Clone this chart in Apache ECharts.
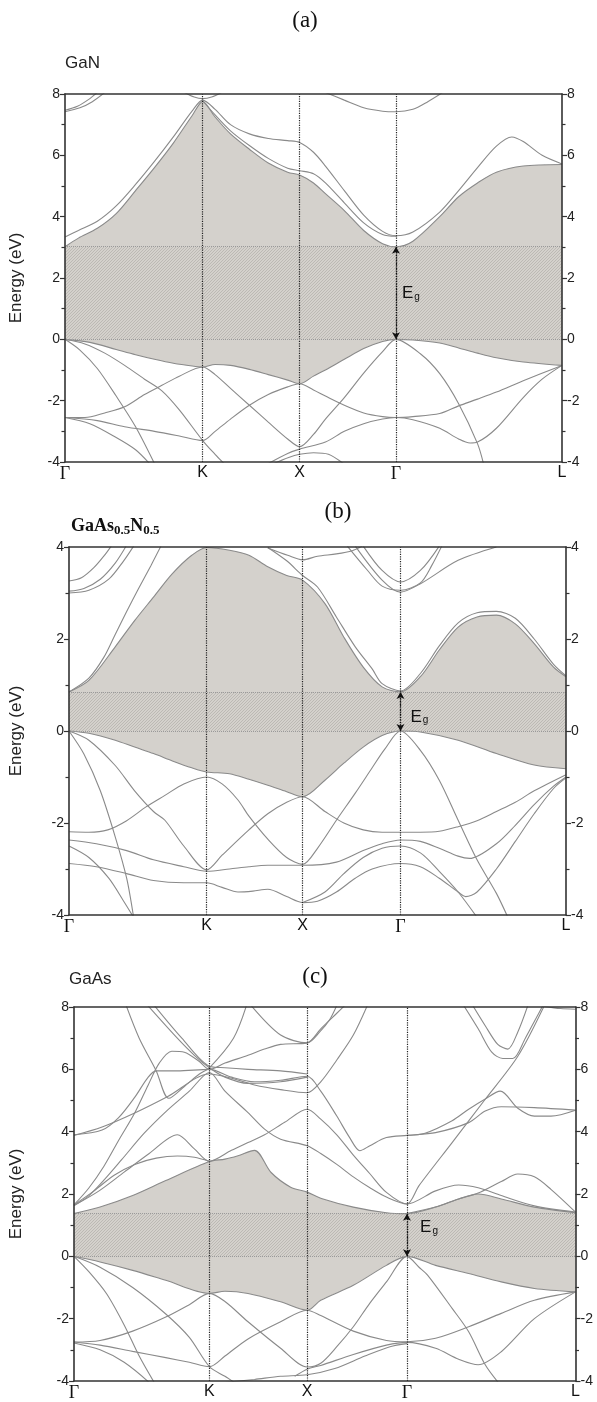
<!DOCTYPE html>
<html><head><meta charset="utf-8">
<script src="https://cdn.jsdelivr.net/npm/echarts@6/dist/echarts.min.js"></script>
<style>html,body{margin:0;padding:0;background:#fff}#c{width:597px;height:1402px}</style>
</head><body><div id="c"></div>
<script>
// ---------- high-symmetry points (x position along path, 0..100) ----------
const xNames = ['Γ','K','X','Γ','L'];
const kA = [0, 27.7, 47.2, 66.6, 100];
const kB = [0, 27.7, 47.0, 66.7, 100];
const kC = [0, 27.0, 46.5, 66.4, 100];
const yTicksA = [-4, 8];
const yTicksB = [-4, 4];
const yTicksC = [-4, 8];
const egA = 3.02, egB = 0.85, egC = 1.37;

// ---------- (a) GaN ----------
const a_cb = [[0,3.02],[2.7,3.3],[6.5,3.62],[10.3,4.1],[14.2,4.85],[18,5.6],[21.8,6.4],[25.6,7.3],[27.7,7.75],[30.2,7.25],[33.3,6.7],[37.1,6.2],[40.9,5.75],[44.8,5.45],[47.2,5.36],[50,5.1],[52.4,4.75],[56.2,4.2],[60.1,3.55],[63.9,3.12],[66.6,3.02],[70,3.2],[75.4,4.0],[79.2,4.65],[83,5.1],[86.8,5.45],[92.2,5.65],[100,5.7]];
const a_vb = [[0,0],[5,-0.1],[10.3,-0.33],[14.2,-0.5],[18,-0.65],[21.8,-0.78],[25.6,-0.87],[27.7,-0.9],[30.2,-0.82],[33.3,-0.85],[37.1,-0.98],[40.9,-1.15],[44.8,-1.33],[47.2,-1.45],[50,-1.2],[52.4,-1.0],[56.2,-0.65],[60.1,-0.3],[63.9,-0.07],[66.6,0],[70,-0.02],[75.4,-0.12],[79.2,-0.28],[83,-0.45],[86.8,-0.6],[92.2,-0.74],[100,-0.85]];
const a_c2 = [[0,3.34],[2.7,3.55],[6.5,3.85],[10.3,4.35],[14.2,5.05],[18,5.8],[21.8,6.6],[25.6,7.45],[27.7,7.8],[30.2,7.5],[33.3,7.0],[37.1,6.7],[40.9,6.55],[44.8,6.48],[47.2,6.42],[50,6.1],[52.4,5.65],[56.2,4.85],[60.1,4.05],[63.9,3.52],[66.6,3.38],[70,3.5],[75.4,4.15],[79.2,4.85],[83,5.6],[86.8,6.3],[89.9,6.6],[92.2,6.45],[96,6.0],[100,5.72]];
const a_c3 = [[27.7,7.78],[30.2,7.32],[33.3,6.8],[37.1,6.32],[40.9,5.9],[44.8,5.58],[47.2,5.5],[50,5.4],[52.4,5.1],[56.2,4.45],[60.1,3.8],[63.9,3.42],[66.6,3.36]];
const a_c4 = [[0,7.42],[3,7.55],[5.5,7.75],[8,8.05]];
const a_c5 = [[0,7.47],[2.5,7.6],[5,7.85],[6.5,8.05]];
const a_c6 = [[24,8.05],[26,7.9],[27.7,7.85],[29.5,7.9],[31.5,8.05]];
const a_c7 = [[52.4,8.05],[56.2,7.8],[60.1,7.55],[63.9,7.44],[66.6,7.42],[70,7.5],[73,7.75],[76,8.05]];
const a_v2 = [[0,0],[4,-0.15],[8,-0.45],[12,-0.85],[16,-1.3],[19.5,-1.68],[23,-2.3],[27.7,-3.3],[30.2,-3.75],[32,-4.05]];
const a_v3 = [[0,0],[3,-0.35],[6.5,-0.95],[10.3,-1.85],[14.2,-2.85],[18,-4.05]];
const a_v4 = [[0,-2.55],[4,-2.55],[8,-2.4],[12,-2.2],[16,-1.8],[19.5,-1.5],[23,-1.2],[27.7,-0.9],[30.2,-1.15],[33.3,-1.6],[37.1,-2.15],[40.9,-2.7],[44.8,-3.25],[47.2,-3.5],[50,-3.1],[52.4,-2.6],[56.2,-1.9],[60.1,-1.1],[63.9,-0.4],[66.6,0],[71.5,-0.47],[75.4,-1.12],[79.2,-2.1],[83,-3.4],[84.2,-4.05]];
const a_v5 = [[0,-2.55],[6.5,-2.65],[12,-2.85],[18,-3.0],[23,-3.15],[27.7,-3.3],[30.2,-3.0],[33.3,-2.6],[37.1,-2.15],[40.9,-1.8],[44.8,-1.55],[47.2,-1.45],[50,-1.65],[52.4,-1.85],[56.2,-2.15],[60.1,-2.4],[63.9,-2.52],[66.6,-2.55],[70,-2.52],[75.4,-2.42],[79.2,-2.17],[83,-1.95],[86.8,-1.72],[92.2,-1.35],[100,-0.85]];
const a_v6 = [[0,-2.55],[5,-2.75],[10.3,-3.2],[14.2,-3.6],[17,-4.05]];
const a_v7 = [[40.9,-4.05],[44.8,-3.72],[47.2,-3.58],[52.4,-3.35],[56.2,-3.0],[60.1,-2.75],[63.9,-2.6],[66.6,-2.55],[70,-2.62],[75.4,-2.9],[79.2,-3.25],[81.5,-3.38],[83,-3.35],[86.8,-2.9],[92.2,-1.9],[96,-1.3],[100,-0.85]];
const a_v8 = [[42,-4.05],[45,-3.85],[47.2,-3.75],[50,-3.7],[53,-3.75],[56,-4.05]];
const bandsA = [a_cb, a_vb, a_c2, a_c3, a_c4, a_c5, a_c6, a_c7, a_v2, a_v3, a_v4, a_v5, a_v6, a_v7, a_v8];

// ---------- (b) GaAs0.5N0.5 ----------
const b_cb = [[0,0.85],[4,1.1],[9.3,1.83],[13.2,2.4],[17,2.91],[20.8,3.42],[24.7,3.82],[27.7,3.99],[32.3,3.93],[36.2,3.82],[40,3.57],[43.8,3.38],[47,3.28],[51.5,2.77],[55.3,2.04],[59.2,1.39],[63,0.96],[66.7,0.85],[70.7,1.18],[74.5,1.76],[78.3,2.26],[82.1,2.48],[86,2.52],[89.8,2.33],[93.6,1.9],[97.5,1.39],[100,1.18]];
const b_vb = [[0,0],[4,-0.05],[9.3,-0.2],[13.2,-0.35],[17,-0.49],[20.8,-0.65],[24.7,-0.8],[27.7,-0.89],[32.3,-0.93],[36.2,-1.05],[40,-1.18],[43.8,-1.32],[47,-1.43],[51.5,-1.07],[55.3,-0.7],[59.2,-0.35],[63,-0.1],[66.7,0],[70.7,-0.02],[78.3,-0.2],[86,-0.49],[93.6,-0.74],[100,-0.82]];
const b_c2 = [[40,3.99],[43.8,3.7],[47,3.38],[50,3.13],[53.8,2.48],[57.6,1.83],[61,1.35],[63,1.03],[66.7,0.87],[70.7,1.25],[74.5,1.85],[78.3,2.35],[82.1,2.57],[86,2.6],[89.8,2.45],[93.6,2.0],[97.5,1.45],[100,1.2]];
const b_c3 = [[0,0.85],[4,1.15],[7,1.6],[9.3,2.1],[11.6,2.6],[14,3.1],[16.5,3.6],[18.5,4.02]];
const b_c4 = [[0,3.26],[2.5,3.33],[5,3.55],[7,3.8],[8.5,4.02]];
const b_c5 = [[0,3.04],[3,3.1],[6.3,3.3],[9.3,3.65],[11.5,4.02]];
const b_c6 = [[0,3.0],[4,3.06],[8,3.3],[11,3.7],[13,4.02]];
const b_c7 = [[40,3.98],[44,3.82],[47,3.72],[50,3.8],[53.8,3.85],[57,3.92],[59,4.02]];
const b_c8 = [[59.2,4.02],[63,3.49],[66.7,3.24],[70.7,3.49],[74.5,4.02]];
const b_c9 = [[57.6,4.02],[63,3.28],[66.7,3.02],[70.7,3.2],[78.3,3.71],[86,4.0]];
const b_c10 = [[56,4.02],[60,3.5],[63,3.15],[66.7,3.06],[70.7,3.22],[73,3.6],[75,4.02]];
const b_v2 = [[0,0],[4,-0.2],[9.3,-0.75],[13.2,-1.3],[17,-1.75],[19.3,-1.94],[23.1,-2.5],[27.7,-3.02],[30.8,-2.7],[36.2,-2.15],[40,-1.8],[43.8,-1.55],[47,-1.43],[51.5,-1.75],[55.3,-2.0],[59.2,-2.15],[63,-2.2],[66.7,-2.2],[70.7,-2.2],[74.5,-2.18],[78.3,-2.08],[82.1,-1.95],[86,-1.75],[89.8,-1.55],[93.6,-1.3],[100,-0.95]];
const b_v3 = [[0,0],[3,-0.5],[6.3,-1.3],[9.3,-2.3],[11.6,-3.2],[13,-4.05]];
const b_v3b = [[0,-2.5],[4,-2.75],[8,-3.2],[11,-3.7],[13,-4.05]];
const b_v4 = [[0,-2.19],[4,-2.2],[7.8,-2.15],[11.6,-1.95],[15.5,-1.65],[19.3,-1.4],[23.1,-1.15],[27.7,-1.0],[30.8,-1.15],[34,-1.5],[36.2,-1.85],[40,-2.35],[43.8,-2.75],[47,-2.9],[50,-2.55],[53.8,-1.94],[57.6,-1.35],[61,-0.8],[63.5,-0.4],[66.7,0],[70.7,-0.42],[74.5,-1.07],[78.3,-1.94],[82.1,-2.8],[86,-3.53],[88.3,-4.05]];
const b_v5 = [[0,-2.37],[5.5,-2.45],[11.6,-2.6],[17,-2.8],[23.1,-2.95],[27.7,-3.05],[32.3,-3.0],[36.2,-2.95],[40,-2.92],[47,-2.92],[53.8,-2.85],[59.2,-2.6],[63,-2.45],[66.7,-2.37],[70.7,-2.4],[74.5,-2.55],[78.3,-2.72],[80.6,-2.77],[86,-2.45],[89.8,-2.05],[93.6,-1.6],[97.5,-1.2],[100,-1.0]];
const b_v6 = [[0,-2.88],[5.5,-2.95],[11.6,-3.1],[17,-3.25],[23.1,-3.3],[27.7,-3.3],[30.8,-3.4],[34,-3.5],[37,-3.48],[40,-3.44],[43.8,-3.6],[47,-3.73],[50,-3.7],[53.8,-3.5],[57.6,-3.2],[61,-3.0],[66.7,-2.88],[70.7,-2.95],[74.5,-3.2],[78.3,-3.5],[79.8,-3.6],[82.1,-3.5],[86,-3.0],[89.8,-2.4],[93.6,-1.8],[97.5,-1.25],[100,-1.02]];
const b_v7 = [[47,-3.73],[51.5,-3.5],[55.3,-3.1],[59.2,-2.75],[63,-2.55],[66.7,-2.5],[70.7,-2.65],[74.5,-3.05],[78.3,-3.5],[82.1,-4.05]];
const bandsB = [b_cb, b_vb, b_c2, b_c3, b_c4, b_c5, b_c6, b_c7, b_c8, b_c9, b_c10, b_v2, b_v3, b_v3b, b_v4, b_v5, b_v6, b_v7];

// ---------- (c) GaAs ----------
const c_cb = [[0,1.37],[5.2,1.58],[11.7,1.95],[18.3,2.43],[27,3.04],[30.1,3.12],[32.7,3.23],[36,3.4],[39.3,2.69],[43.2,2.22],[46.5,2.06],[49.5,1.85],[55.7,1.58],[62.3,1.4],[66.4,1.37],[72.1,1.58],[76.7,1.84],[80.6,2.0],[85.2,1.84],[91.8,1.58],[100,1.4]];
const c_vb = [[0,0],[5.2,-0.18],[11.7,-0.45],[18.3,-0.77],[27,-1.19],[30.1,-1.12],[34.7,-1.19],[41.2,-1.46],[46.5,-1.73],[49.2,-1.41],[55.7,-0.93],[62.3,-0.29],[66.4,0],[72.1,-0.29],[78.7,-0.55],[85.2,-0.82],[91.8,-1.03],[100,-1.14]];
const c_v2 = [[0,0],[5.2,-0.35],[11.7,-1.0],[18.3,-1.85],[23,-2.6],[27,-3.54],[30.1,-3.85],[32,-4.05]];
const c_v3 = [[0,0],[3,-0.5],[6.5,-1.2],[10,-2.2],[13,-3.2],[16,-4.05]];
const c_v4 = [[0,-2.75],[5.2,-2.7],[11.7,-2.4],[18.3,-1.95],[23,-1.55],[27,-1.19],[30.1,-1.45],[34.7,-2.1],[41.2,-2.95],[46.5,-3.55],[49.2,-3.43],[52.4,-2.9],[55.7,-2.26],[59,-1.5],[62.3,-0.82],[66.4,0],[68.8,-0.35],[70.5,-0.6],[75.4,-1.67],[78.7,-2.42],[82,-3.48],[84.6,-4.05]];
const c_v5 = [[0,-2.75],[5.2,-2.85],[11.7,-3.05],[18.3,-3.25],[23,-3.4],[27,-3.54],[30.1,-3.2],[34.7,-2.65],[41.2,-2.1],[46.5,-1.73],[49.2,-1.9],[55.7,-2.4],[62.3,-2.7],[66.4,-2.74],[72.1,-2.63],[78.7,-2.26],[85.2,-1.83],[91.8,-1.41],[100,-1.14]];
const c_v6 = [[0,-2.78],[5.2,-3.0],[10,-3.4],[15,-4.05]];
const c_v7 = [[44,-3.85],[46.5,-3.62],[49.2,-3.5],[55.7,-3.15],[62.3,-2.85],[66.4,-2.76],[72.1,-2.95],[76.7,-3.3],[80.6,-3.48],[85.2,-3.06],[91.8,-2.0],[100,-1.14]];
const c_v8 = [[30,-4.05],[36,-3.95],[41.2,-3.85],[46.5,-3.8],[52,-3.6],[58,-3.2],[63,-2.9],[66.4,-2.8]];
const c_c2 = [[0,1.63],[5,2.1],[10,2.7],[15,3.3],[20.6,3.9],[24,3.45],[27,3.05],[31.4,3.4],[34.7,3.65],[38,3.9],[42,4.3],[46.5,4.72],[49.2,4.4],[52.4,3.9],[55.7,3.25],[59,2.65],[62.3,2.05],[66.4,1.68],[68.8,2.27],[75.4,3.65],[82,5.04],[88.5,6.42],[93.8,8.05]];
const c_c3 = [[0,1.65],[4,2.1],[8,2.6],[12.1,2.95],[16.4,3.15],[20.6,3.22],[24,3.18],[27,3.05]];
const c_c4 = [[0,1.63],[3,1.95],[6,2.45],[9.5,3.1],[14,3.95],[18.7,4.7],[23,5.3],[27,5.9],[30.1,5.3],[34.7,4.61],[38,4.08],[41.2,3.76],[46.5,3.55],[49.2,3.3],[52.4,2.95],[55.7,2.55],[59,2.2],[62.3,1.9],[66.4,1.68],[72.1,2.1],[76.7,2.29],[80.6,2.2],[85.2,1.95],[91.8,1.62],[100,1.42]];
const c_c5 = [[0,1.65],[3,2.2],[6,2.9],[9,3.75],[12.1,4.6],[14.8,5.5],[17,6.2],[19.5,6.58],[22,6.55],[25,6.25],[27,6.0],[30.1,6.2],[34.7,6.45],[38,6.65],[41.2,6.8],[46.5,6.85],[49.2,7.3],[52.4,7.8],[54,8.05]];
const c_c6 = [[0,3.88],[5.6,4.15],[12.1,4.6],[18.7,5.13],[27,5.85],[31.8,5.7],[36,5.5],[41.2,5.35],[46.5,5.25],[49.2,5.6],[52.4,6.3],[55.7,7.1],[58.5,8.05]];
const c_c7 = [[0,3.9],[5.6,4.05],[8.9,4.45],[12.1,5.1],[14.8,5.75],[16.4,5.95],[20.6,5.95],[27,6.0],[31.4,5.75],[36,5.6],[41.2,5.65],[46.5,5.78],[49.2,5.3],[52.4,4.5],[55,3.8],[57,3.39],[59,3.55],[62.3,3.81],[66.4,3.88],[72.1,3.97],[78.7,4.29],[82,4.66],[85.2,4.8],[91.8,4.77],[100,4.69]];
const c_c8 = [[10.4,8.05],[13,7.0],[16.4,5.95],[18.9,5.07],[22,5.45],[25,5.85],[27,6.05],[31.8,7.0],[34.4,8.05]];
const c_c9 = [[14.7,8.05],[20.6,7.0],[24,6.45],[27,6.05],[30.1,5.75],[34.7,5.55],[41.2,5.6],[46.5,5.75]];
const c_c10 = [[16,8.05],[21.5,7.0],[27,6.1],[30.1,6.05],[34.7,6.0],[41.2,5.95],[46.5,5.85]];
const c_c11 = [[35.3,8.05],[41.2,7.1],[46.5,6.85],[49,7.2],[51,7.6],[52.4,8.05]];
const c_c12 = [[66.4,3.88],[70,3.95],[75.4,4.35],[78.7,4.72],[82,5.05],[85,5.3],[88.5,4.75],[91.8,4.5],[95.1,4.5],[100,4.69]];
const c_c13 = [[66.4,1.37],[72.1,1.58],[76.7,1.84],[80.6,2.03],[85.2,2.4],[88.5,2.64],[91.8,2.55],[95.1,2.15],[100,1.42]];
const c_c14 = [[77.7,8.05],[80.6,7.3],[83.3,6.55],[85.5,6.35],[87.5,6.35],[90,7.0],[92,7.6],[93.5,8.05]];
const c_c15 = [[79.5,8.05],[82,7.4],[84.5,6.8],[86.5,6.65],[88.5,7.2],[90.5,8.05]];
const c_c16 = [[93.8,8.02],[97,7.95],[100,7.93]];
const bandsC = [c_cb, c_vb, c_v2, c_v3, c_v4, c_v5, c_v6, c_v7, c_v8, c_c2, c_c3, c_c4, c_c5, c_c6, c_c7, c_c8, c_c9, c_c10, c_c11, c_c12, c_c13, c_c14, c_c15, c_c16];

// ---------- layout ----------
const panels = [
  {k:kA, eg:egA, cb:a_cb, vb:a_vb, bands:bandsA, yr:yTicksA, grid:{left:63, top:94, width:499, height:368}, nameGap:40, egPos:[69.6,1.5]},
  {k:kB, eg:egB, cb:b_cb, vb:b_vb, bands:bandsB, yr:yTicksB, grid:{left:67, top:547, width:499, height:368}, nameGap:44, egPos:[70.5,0.3]},
  {k:kC, eg:egC, cb:c_cb, vb:c_vb, bands:bandsC, yr:yTicksC, grid:{left:67, top:1007, width:508.5, height:376}, nameGap:49, egPos:[70.8,0.92]}
];

function makeHatch(){
  const s = 3, c = document.createElement('canvas');
  c.width = s; c.height = s;
  const g = c.getContext('2d');
  g.fillStyle = '#d4d1cc'; g.fillRect(0,0,s,s);
  g.strokeStyle = '#b6b2ad'; g.lineWidth = 0.8;
  g.beginPath();
  g.moveTo(-1, s+1); g.lineTo(s+1, -1);
  g.moveTo(-1, 1); g.lineTo(1, -1);
  g.moveTo(s-1, s+1); g.lineTo(s+1, s-1);
  g.stroke();
  return c;
}
const hatch = makeHatch();

const FILL = '#d4d1cc';
const BAND = '#8a8a8a';
const AX = '#333';
const sans = '"Liberation Sans", Arial, sans-serif';
const serif = '"Liberation Serif", "Times New Roman", serif';

const grids = [], xAxes = [], yAxes = [], series = [];
panels.forEach((p, i) => {
  grids.push(Object.assign({containLabel:false}, p.grid));
  const xb = xAxes.length;
  xAxes.push({
    gridIndex:i, type:'value', min:0, max:100, position:'bottom', z:10,
    axisLine:{show:true, onZero:false, lineStyle:{color:AX, width:1.6}},
    axisTick:{show:false}, splitLine:{show:false},
    axisLabel:{
      customValues:p.k, margin:3,
      formatter:(v)=>{ const n = xNames[p.k.indexOf(v)]; return n === 'Γ' ? '{g|Γ}' : '{s|' + n + '}'; },
      rich:{g:{fontFamily:serif, fontSize:18, color:'#111'}, s:{fontFamily:sans, fontSize:16, color:'#111'}}
    }
  });
  xAxes.push({
    gridIndex:i, type:'value', min:0, max:100, position:'top', z:10,
    axisLine:{show:true, onZero:false, lineStyle:{color:AX, width:1.6}},
    axisTick:{show:false}, axisLabel:{show:false}, splitLine:{show:false}
  });
  const yl = yAxes.length;
  const yBase = (pos) => ({
    gridIndex:i, type:'value', min:p.yr[0], max:p.yr[1], interval:2, position:pos, z:10,
    axisLine:{show:true, onZero:false, lineStyle:{color:AX, width:1.6}},
    axisTick:{show:true, length:5, lineStyle:{color:AX, width:1.2}},
    minorTick:{show:true, splitNumber:2, length:3.5, lineStyle:{color:AX, width:1.2}},
    axisLabel:{fontFamily:sans, fontSize:14, color:'#222', margin:5},
    splitLine:{show:false}, minorSplitLine:{show:false}
  });
  const left = yBase('left');
  left.name = 'Energy (eV)'; left.nameLocation = 'middle'; left.nameGap = p.nameGap;
  left.nameTextStyle = {fontFamily:sans, fontSize:17, color:'#222'};
  yAxes.push(left);
  yAxes.push(yBase('right'));

  const common = {xAxisIndex:xb, yAxisIndex:yl, silent:true, animation:false};
  const lineCommon = Object.assign({type:'line', smooth:0.3, symbol:'none', showSymbol:false}, common);
  series.push(Object.assign({}, lineCommon, {data:p.cb, z:1, lineStyle:{width:0, opacity:0}, areaStyle:{color:FILL, opacity:1, origin:'start'}}));
  series.push(Object.assign({}, lineCommon, {data:p.vb, z:2, lineStyle:{width:0, opacity:0}, areaStyle:{color:'#ffffff', opacity:1, origin:'start'}}));
  // hatched gap region 0..Eg
  series.push(Object.assign({}, common, {
    type:'custom', coordinateSystem:'cartesian2d', z:3, clip:true,
    data:[[0, 0, 100, p.eg]],
    encode:{x:[0,2], y:[1,3]},
    renderItem:(params, api) => {
      const p0 = api.coord([api.value(0), api.value(1)]);
      const p1 = api.coord([api.value(2), api.value(3)]);
      return {type:'rect', shape:{x:p0[0], y:p1[1], width:p1[0]-p0[0], height:p0[1]-p1[1]},
              style:{fill:{image:hatch, repeat:'repeat'}}};
    }
  }));
  // dotted guide lines
  series.push(Object.assign({}, lineCommon, {
    data:[], z:3,
    markLine:{silent:true, symbol:'none', label:{show:false}, animation:false,
      data:[
        {xAxis:p.k[1], lineStyle:{type:'dotted', color:'#222', width:1.2}},
        {xAxis:p.k[2], lineStyle:{type:'dotted', color:'#222', width:1.2}},
        {xAxis:p.k[3], lineStyle:{type:'dotted', color:'#222', width:1.2}},
        {yAxis:0, lineStyle:{type:'dotted', color:'#9a9a9a', width:1}},
        {yAxis:p.eg, lineStyle:{type:'dotted', color:'#9a9a9a', width:1}}
      ]}
  }));
  p.bands.forEach((b) => {
    series.push(Object.assign({}, lineCommon, {data:b, z:4, lineStyle:{color:BAND, width:1.1}}));
  });
  // Eg arrow + label
  series.push(Object.assign({}, lineCommon, {
    data:[], z:6,
    markLine:{silent:true, symbol:['arrow','arrow'], symbolSize:[6,7], label:{show:false}, animation:false,
      lineStyle:{type:'dotted', color:'#111', width:1.3},
      data:[[{coord:[p.k[3], 0]}, {coord:[p.k[3], p.eg]}]]},
    markPoint:{silent:true, symbol:'circle', symbolSize:0, animation:false,
      data:[{coord:p.egPos}],
      label:{show:true, position:'inside', formatter:'{e|E}{g|g}',
        rich:{e:{fontFamily:sans, fontSize:17, color:'#111', lineHeight:17, verticalAlign:'top'},
              g:{fontFamily:sans, fontSize:10, color:'#111', lineHeight:10, verticalAlign:'bottom', padding:[14,0,0,1]}}}}
  }));
});

const chart = echarts.init(document.getElementById('c'), null, {renderer:'canvas'});
chart.setOption({
  animation:false,
  backgroundColor:'#ffffff',
  grid:grids, xAxis:xAxes, yAxis:yAxes, series:series,
  graphic:[
    {type:'text', x:305, y:21, style:{text:'(a)', fontFamily:serif, fontSize:23, fill:'#111', align:'center', verticalAlign:'middle'}},
    {type:'text', x:65, y:63, style:{text:'GaN', fontFamily:sans, fontSize:17, fill:'#222', align:'left', verticalAlign:'middle'}},
    {type:'text', x:338, y:512, style:{text:'(b)', fontFamily:serif, fontSize:23, fill:'#111', align:'center', verticalAlign:'middle'}},
    {type:'text', x:71, y:527, style:{text:'{b|GaAs}{s|0.5}{b|N}{s|0.5}', align:'left', verticalAlign:'middle',
      rich:{b:{fontFamily:serif, fontWeight:'bold', fontSize:18, fill:'#111', lineHeight:20, verticalAlign:'top'},
            s:{fontFamily:serif, fontWeight:'bold', fontSize:13, fill:'#111', lineHeight:13, verticalAlign:'bottom', padding:[9,0,0,0]}}}},
    {type:'text', x:315, y:977, style:{text:'(c)', fontFamily:serif, fontSize:23, fill:'#111', align:'center', verticalAlign:'middle'}},
    {type:'text', x:69, y:979, style:{text:'GaAs', fontFamily:sans, fontSize:17, fill:'#222', align:'left', verticalAlign:'middle'}}
  ]
});
</script></body></html>
